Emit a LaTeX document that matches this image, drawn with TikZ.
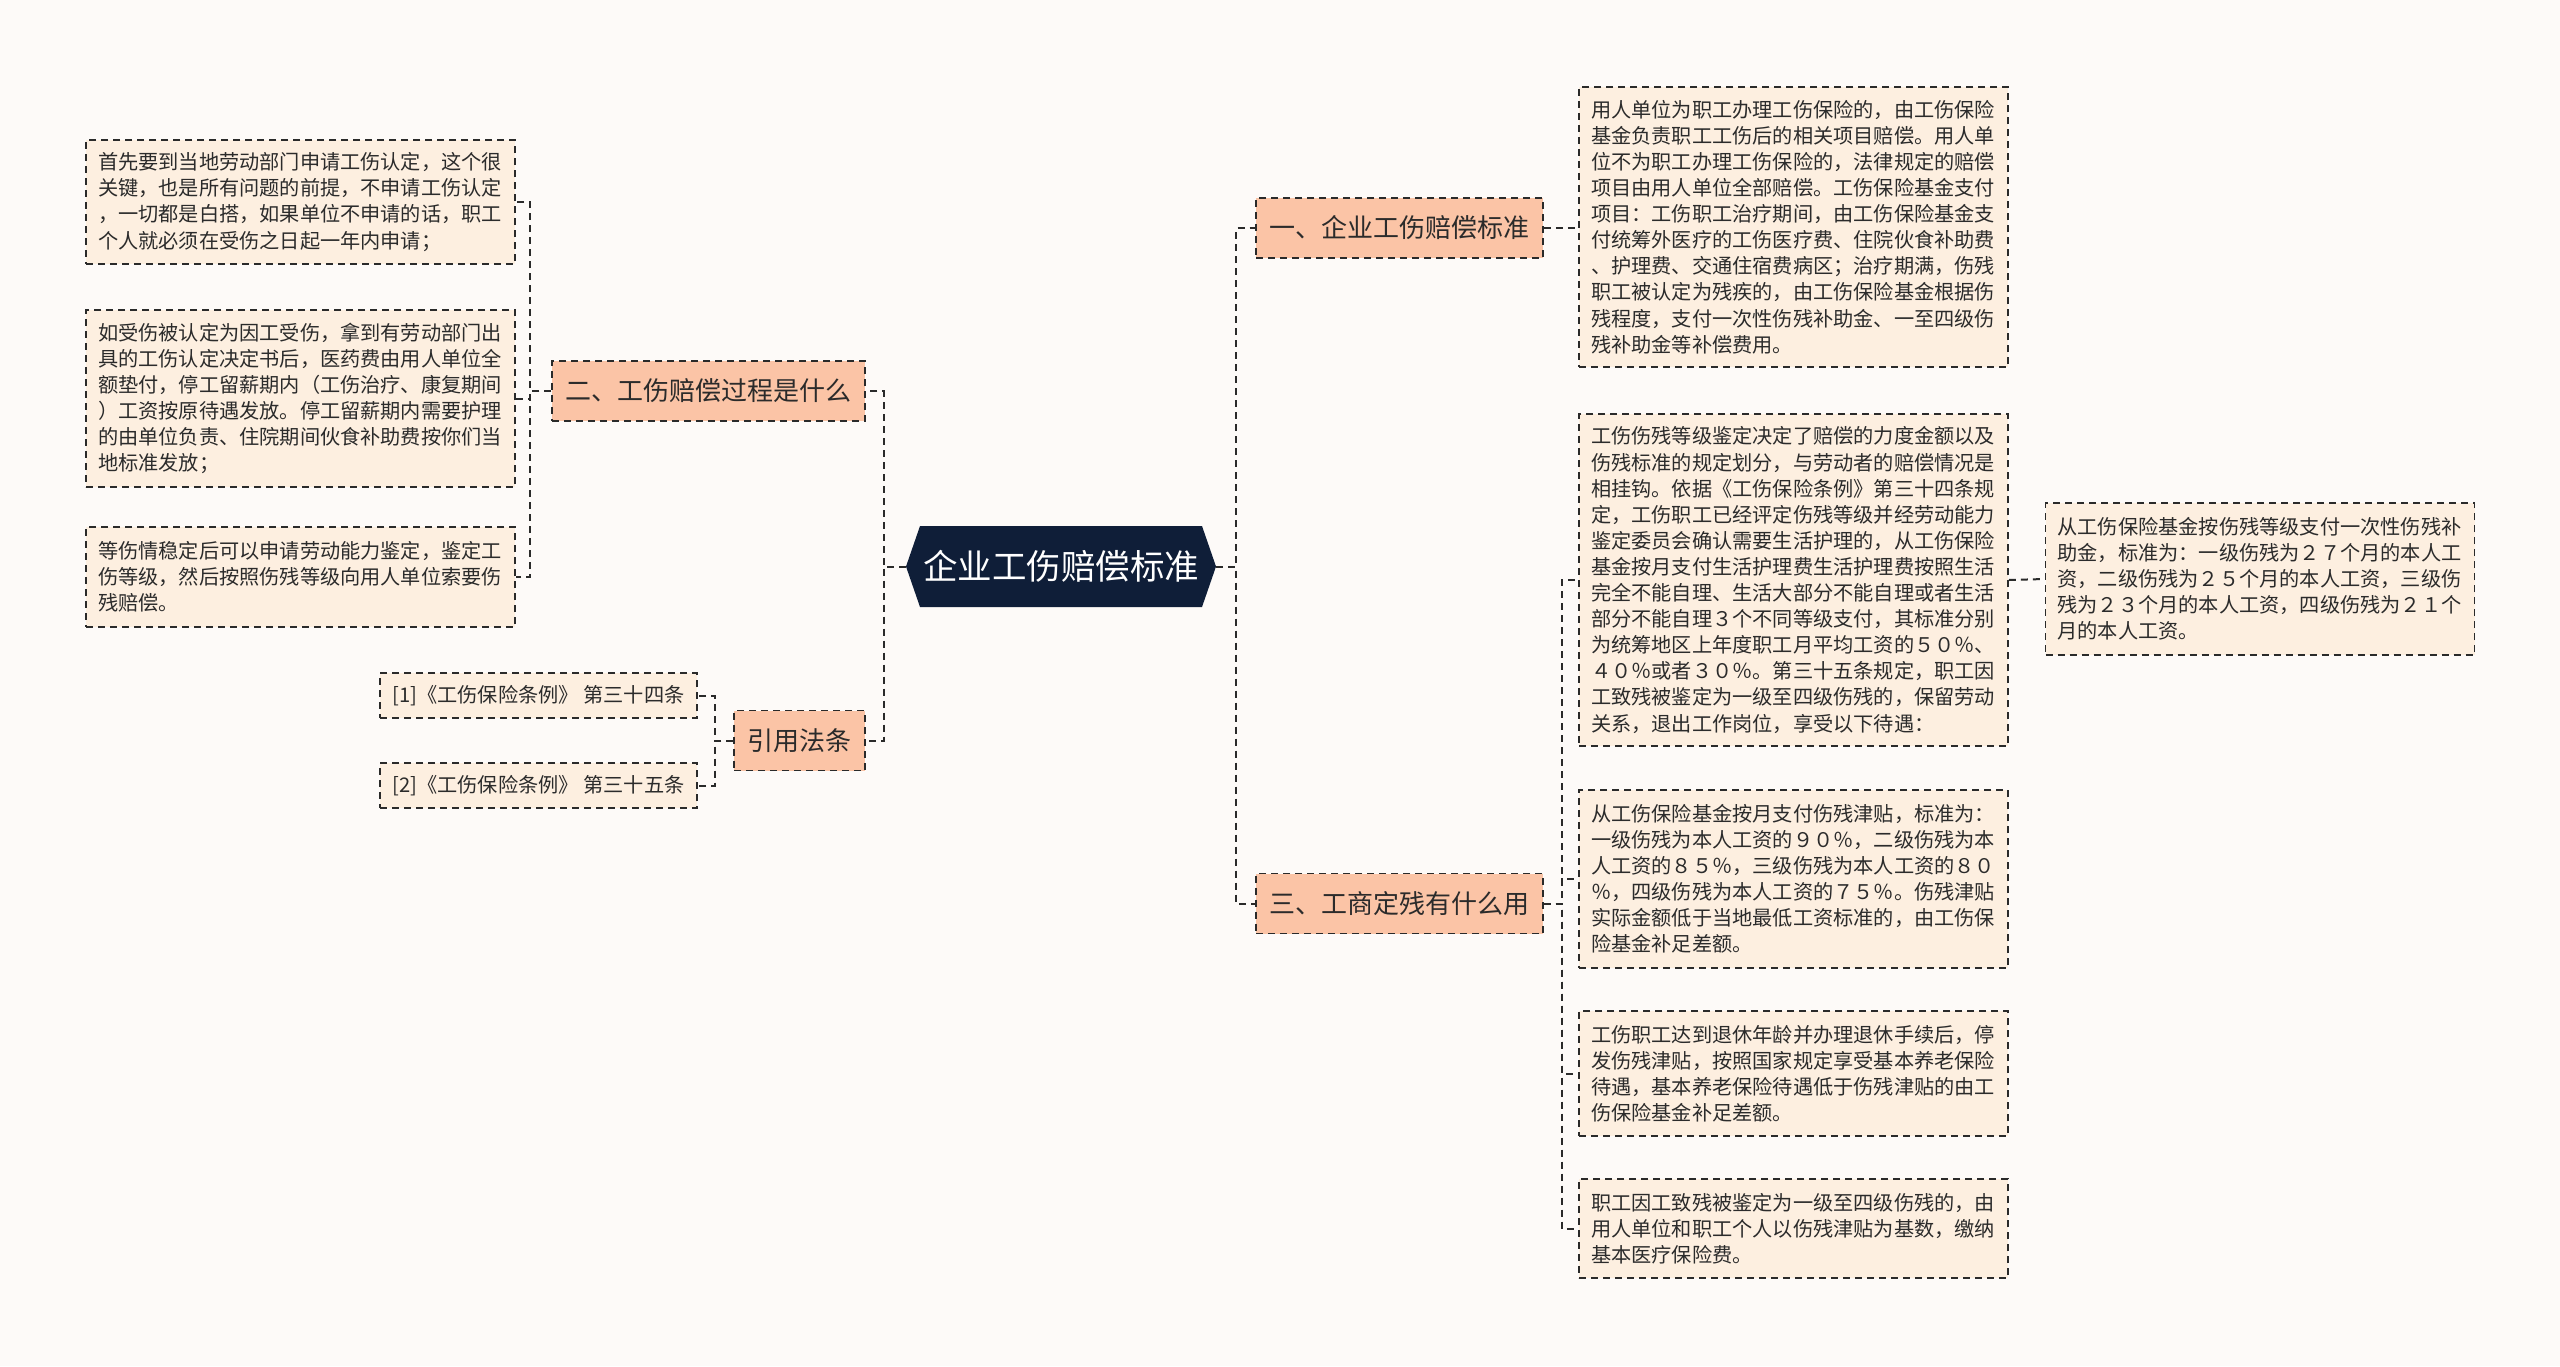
\documentclass[tikz,border=0pt]{standalone}
\usepackage{fontspec}
\setmainfont{Noto Sans CJK SC}
\definecolor{bgc}{HTML}{FDFAF8}
\definecolor{leafc}{HTML}{FDEFE0}
\definecolor{branchc}{HTML}{FBC4A6}
\definecolor{rootc}{HTML}{0F1E38}
\definecolor{inkc}{HTML}{2B2B2B}
\definecolor{edgec}{HTML}{2A2A2A}
\begin{document}
\begin{tikzpicture}[x=1pt,y=-1pt,
  leafbox/.style={draw=edgec, line width=1.8pt, dash pattern=on 7pt off 5pt, fill=leafc, text=inkc,
    align=left, text width=405pt, inner xsep=12pt, inner ysep=0pt,
    font=\fontsize{20.2}{26.1}\selectfont},
  refbox/.style={draw=edgec, line width=1.8pt, dash pattern=on 7pt off 5pt, fill=leafc, text=inkc,
    minimum width=317pt, minimum height=45pt, inner sep=0pt,
    font=\fontsize{20.2}{24}\selectfont},
  branchbox/.style={draw=edgec, line width=1.8pt, dash pattern=on 7pt off 5pt, fill=branchc, text=inkc,
    minimum height=60pt, inner xsep=0pt, inner ysep=0pt,
    font=\fontsize{26}{30}\selectfont},
  link/.style={draw=edgec, line width=2pt, dash pattern=on 7pt off 5pt}]

\fill[bgc] (0,0) rectangle (2560,1366);

% root hexagon
\fill[rootc] (906,566.5) -- (920,526) -- (1202,526) -- (1216,566.5) -- (1202,607) -- (920,607) -- cycle;
\node[minimum width=310pt, minimum height=81pt, inner sep=0pt, text=white,
  font=\fontsize{34.5}{38}\selectfont] (root) at (1061,566.5) {企业工伤赔偿标准};

% branches
\node[branchbox, minimum width=287pt] (B1) at (1399.5,228) {一、企业工伤赔偿标准};
\node[branchbox, minimum width=287pt] (B3) at (1399.5,903.5) {三、工商定残有什么用};
\node[branchbox, minimum width=313pt] (B2) at (708.5,391) {二、工伤赔偿过程是什么};
\node[branchbox, minimum width=131pt] (B4) at (799.5,740.5) {引用法条};

% right leaves
\node[leafbox, minimum height=280pt] (A1) at (1793.5,227) {用人单位为职工办理工伤保险的，由工伤保险\\
基金负责职工工伤后的相关项目赔偿。用人单\\
位不为职工办理工伤保险的，法律规定的赔偿\\
项目由用人单位全部赔偿。工伤保险基金支付\\
项目：工伤职工治疗期间，由工伤保险基金支\\
付统筹外医疗的工伤医疗费、住院伙食补助费\\
、护理费、交通住宿费病区；治疗期满，伤残\\
职工被认定为残疾的，由工伤保险基金根据伤\\
残程度，支付一次性伤残补助金、一至四级伤\\
残补助金等补偿费用。};

\node[leafbox, minimum height=332pt] (C1) at (1793.5,580) {工伤伤残等级鉴定决定了赔偿的力度金额以及\\
伤残标准的规定划分，与劳动者的赔偿情况是\\
相挂钩。依据《工伤保险条例》第三十四条规\\
定，工伤职工已经评定伤残等级并经劳动能力\\
鉴定委员会确认需要生活护理的，从工伤保险\\
基金按月支付生活护理费生活护理费按照生活\\
完全不能自理、生活大部分不能自理或者生活\\
部分不能自理３个不同等级支付，其标准分别\\
为统筹地区上年度职工月平均工资的５０％、\\
４０％或者３０％。第三十五条规定，职工因\\
工致残被鉴定为一级至四级伤残的，保留劳动\\
关系，退出工作岗位，享受以下待遇：};

\node[leafbox, minimum height=152pt] (C1a) at (2260,579) {从工伤保险基金按伤残等级支付一次性伤残补\\
助金，标准为：一级伤残为２７个月的本人工\\
资，二级伤残为２５个月的本人工资，三级伤\\
残为２３个月的本人工资，四级伤残为２１个\\
月的本人工资。};

\node[leafbox, minimum height=178pt] (C2) at (1793.5,879) {从工伤保险基金按月支付伤残津贴，标准为：\\
一级伤残为本人工资的９０％，二级伤残为本\\
人工资的８５％，三级伤残为本人工资的８０\\
％，四级伤残为本人工资的７５％。伤残津贴\\
实际金额低于当地最低工资标准的，由工伤保\\
险基金补足差额。};

\node[leafbox, minimum height=125pt] (C3) at (1793.5,1073.5) {工伤职工达到退休年龄并办理退休手续后，停\\
发伤残津贴，按照国家规定享受基本养老保险\\
待遇，基本养老保险待遇低于伤残津贴的由工\\
伤保险基金补足差额。};

\node[leafbox, minimum height=99pt] (C4) at (1793.5,1228.5) {职工因工致残被鉴定为一级至四级伤残的，由\\
用人单位和职工个人以伤残津贴为基数，缴纳\\
基本医疗保险费。};

% left leaves
\node[leafbox, minimum height=124pt] (L1) at (300.5,202) {首先要到当地劳动部门申请工伤认定，这个很\\
关键，也是所有问题的前提，不申请工伤认定\\
，一切都是白搭，如果单位不申请的话，职工\\
个人就必须在受伤之日起一年内申请；};

\node[leafbox, minimum height=177pt] (L2) at (300.5,398.5) {如受伤被认定为因工受伤，拿到有劳动部门出\\
具的工伤认定决定书后，医药费由用人单位全\\
额垫付，停工留薪期内（工伤治疗、康复期间\\
）工资按原待遇发放。停工留薪期内需要护理\\
的由单位负责、住院期间伙食补助费按你们当\\
地标准发放；};

\node[leafbox, minimum height=100pt] (L3) at (300.5,577) {等伤情稳定后可以申请劳动能力鉴定，鉴定工\\
伤等级，然后按照伤残等级向用人单位索要伤\\
残赔偿。};

\node[refbox] (R1) at (538.5,695.5) {[1]《工伤保险条例》 第三十四条};
\node[refbox] (R2) at (538.5,785.5) {[2]《工伤保险条例》 第三十五条};

% connectors
\draw[link] (root.east) -- ++(20,0) |- (B1.west);
\draw[link] (root.east) -- ++(20,0) |- (B3.west);
\draw[link] (root.west) -- ++(-22,0) |- (B2.east);
\draw[link] (root.west) -- ++(-22,0) |- (B4.east);

\draw[link] (B1.east) -- (A1.west |- B1.east);
\draw[link] (B3.east) -- ++(18,0) |- (C1.west);
\draw[link] (B3.east) -- ++(18,0) |- (C2.west);
\draw[link] (B3.east) -- ++(18,0) |- (C3.west);
\draw[link] (B3.east) -- ++(18,0) |- (C4.west);
\draw[link] (C1.east) -- (C1a.west);

\draw[link] (B2.west) -- ++(-21,0) |- (L1.east);
\draw[link] (B2.west) -- ++(-21,0) |- (L2.east);
\draw[link] (B2.west) -- ++(-21,0) |- (L3.east);
\draw[link] (B4.west) -- ++(-18,0) |- (R1.east);
\draw[link] (B4.west) -- ++(-18,0) |- (R2.east);
\end{tikzpicture}
\end{document}
